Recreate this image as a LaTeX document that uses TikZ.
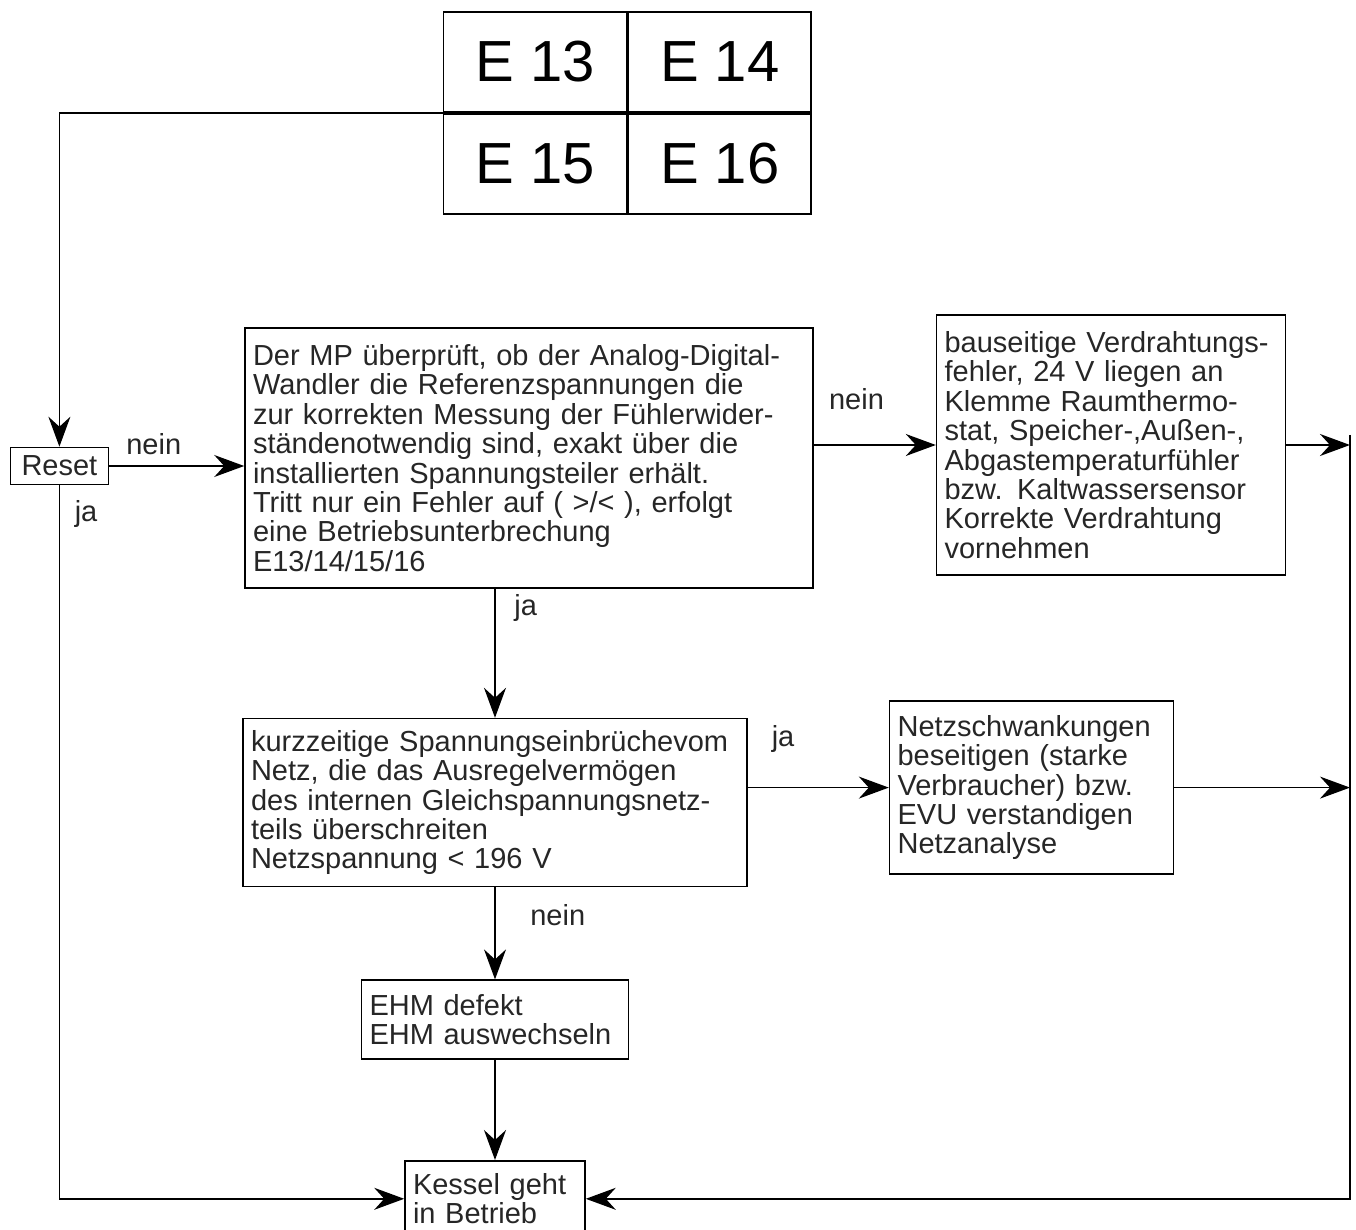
\documentclass[tikz,border=0pt]{standalone}
\usepackage{fontspec}
\setmainfont{Liberation Sans}
\usetikzlibrary{positioning,arrows.meta}

\begin{document}
\begin{tikzpicture}[
  x=0.5pt, y=-0.5pt,
  node distance=5mm and 5mm,
  box/.style={rectangle, draw=black, line width=0.8pt, inner sep=4pt, align=left,
              text=black!85, font=\fontsize{14.5}{14.7}\selectfont},
  cell/.style={rectangle, draw=black, line width=0.9pt, minimum width=91.5pt,
               minimum height=50pt, font=\fontsize{29}{30}\selectfont},
  arr/.style={-{Stealth[length=15pt, width=11pt, inset=5pt]}, line width=0.7pt},
  lbl/.style={font=\fontsize{14.5}{14.7}\selectfont, text=black!85},
]
  \useasboundingbox (0,0) rectangle (1356,1230);

  % error codes
  \node[cell] (e13) at (535,62) {E 13};
  \node[cell, right=0pt of e13] (e14) {E 14};
  \node[cell, below=0pt of e13] (e15) {E 15};
  \node[cell, right=0pt of e15] (e16) {E 16};

  % main check
  \node[box, text width=276pt, minimum height=130pt] (mp) at (529,458) {Der MP überprüft, ob der Analog-Digital-\\Wandler die Referenzspannungen die\\zur korrekten Messung der Fühlerwider-\\ständenotwendig sind, exakt über die\\installierten Spannungsteiler erhält.\\Tritt nur ein Fehler auf ( >/< ), erfolgt\\eine Betriebsunterbrechung\\E13/14/15/16};
  \node[box, align=center, inner sep=3pt, minimum width=49pt, minimum height=18.5pt,
        left=67.5pt of mp, yshift=-4pt] (reset) {Reset};
  \node[box, text width=166.5pt, minimum height=130pt, right=61pt of mp, yshift=6.5pt] (wiring) {bauseitige Verdrahtungs-\\fehler, 24 V liegen an\\Klemme Raumthermo-\\stat, Speicher-,Außen-,\\Abgastemperaturfühler\\bzw. Kaltwassersensor\\Korrekte Verdrahtung\\vornehmen};

  % second check
  \node[box, text width=244pt, minimum height=84pt, below=64.5pt of mp, xshift=-17pt] (kurz) {kurzzeitige Spannungseinbrüchevom\\Netz, die das Ausregelvermögen\\des internen Gleichspannungsnetz-\\teils überschreiten\\Netzspannung < 196 V};
  \node[box, text width=134pt, minimum height=86.5pt, right=70.5pt of kurz, yshift=7.5pt] (netz) {Netzschwankungen\\beseitigen (starke\\Verbraucher) bzw.\\EVU verstandigen\\Netzanalyse};
  \node[box, text width=125.5pt, minimum height=39.5pt, below=46pt of kurz] (ehm) {EHM defekt\\EHM auswechseln};
  \node[box, text width=82pt, minimum height=38pt, inner ysep=2pt, below=50pt of ehm] (kessel) {Kessel geht\\in Betrieb};

  \coordinate (rail) at (1350,0);

  \draw[arr] (e13.south west) -| (reset.north);
  \draw[arr] (reset.east) -- (reset.east -| mp.west) node[lbl, pos=0.33, above=2pt] {nein};
  \draw[arr] (reset.south) -- (reset.south |- kessel.west) node[lbl, pos=0.04, right=4pt] {ja} -- (kessel.west);
  \draw[arr] (mp.east |- wiring.west) -- (wiring.west) node[lbl, pos=0.35, above=14pt] {nein};
  \draw[arr] (kurz.north |- mp.south) -- (kurz.north) node[lbl, pos=0.15, right=6pt] {ja};
  \draw[arr] (kurz.east |- netz.west) -- (netz.west) node[lbl, pos=0.25, above=14pt] {ja};
  \draw[arr] (ehm.north |- kurz.south) -- (ehm.north) node[lbl, pos=0.3, right=14pt] {nein};
  \draw[arr] (ehm) -- (kessel);
  \draw[arr] (wiring.east) -- (wiring.east -| rail);
  \draw[arr] (netz.east) -- (netz.east -| rail);
  \draw[arr] ([yshift=5pt]wiring.east -| rail) -- (kessel.east -| rail) -- (kessel.east);
\end{tikzpicture}
\end{document}
